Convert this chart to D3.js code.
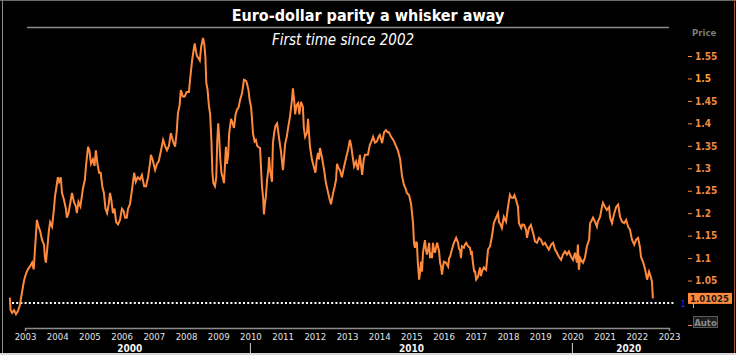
<!DOCTYPE html>
<html><head><meta charset="utf-8">
<script src="https://cdn.jsdelivr.net/npm/d3@7"></script>
<style>html,body{margin:0;padding:0;background:#000;overflow:hidden}</style>
</head><body><svg id="c" width="736" height="355"></svg>
<script>
const title = "Euro-dollar parity a whisker away";
const subtitle = "First time since 2002";
const years = [
 2002.53,2002.55,2002.60,2002.66,2002.72,2002.78,2002.84,2002.91,2002.97,
 2003.03,2003.09,2003.16,2003.22,2003.27,2003.31,2003.37,2003.42,2003.47,2003.53,2003.59,2003.62,2003.65,2003.69,2003.74,2003.78,2003.84,2003.90,2003.93,2003.98,
 2004.02,2004.06,2004.11,2004.15,2004.21,2004.27,2004.30,2004.35,2004.40,2004.46,2004.52,2004.58,2004.61,2004.66,2004.72,2004.76,2004.80,2004.86,2004.90,2004.96,
 2005.00,2005.05,2005.11,2005.16,2005.20,2005.25,2005.30,2005.35,2005.40,2005.45,2005.50,2005.55,2005.60,2005.64,2005.68,2005.73,2005.78,2005.83,2005.89,2005.95,
 2006.01,2006.06,2006.11,2006.16,2006.20,2006.26,2006.32,2006.39,2006.44,2006.50,2006.57,2006.63,2006.70,2006.76,2006.82,2006.88,2006.91,2006.96,
 2007.04,2007.10,2007.15,2007.21,2007.29,2007.35,2007.41,2007.47,2007.53,2007.60,2007.66,2007.71,2007.75,2007.80,2007.84,2007.90,2007.96,
 2008.02,2008.09,2008.13,2008.19,2008.23,2008.27,2008.31,2008.34,2008.39,2008.43,2008.47,2008.53,2008.57,2008.60,2008.63,2008.67,2008.71,2008.75,2008.79,2008.82,2008.85,2008.90,2008.94,2008.97,
 2009.00,2009.03,2009.06,2009.10,2009.14,2009.18,2009.24,2009.27,2009.31,2009.34,2009.40,2009.45,2009.49,2009.54,2009.58,2009.63,2009.68,2009.74,2009.80,2009.86,2009.89,2009.94,2009.98,
 2010.02,2010.05,2010.08,2010.13,2010.17,2010.21,2010.24,2010.30,2010.33,2010.36,2010.40,2010.42,2010.45,2010.48,2010.52,2010.56,2010.58,2010.61,2010.65,2010.67,2010.70,2010.74,2010.78,2010.83,2010.89,2010.95,
 2011.01,2011.04,2011.08,2011.13,2011.17,2011.23,2011.29,2011.32,2011.36,2011.39,2011.43,2011.48,2011.52,2011.57,2011.63,2011.66,2011.70,2011.76,2011.79,2011.85,2011.91,2011.98,
 2012.02,2012.06,2012.10,2012.13,2012.16,2012.22,2012.29,2012.34,2012.38,2012.44,2012.50,2012.57,2012.62,2012.66,2012.69,2012.74,2012.78,2012.84,2012.91,2012.97,
 2013.03,2013.09,2013.13,2013.16,2013.22,2013.28,2013.34,2013.40,2013.47,2013.52,2013.56,2013.65,2013.71,2013.76,2013.81,2013.87,2013.93,2013.98,
 2014.02,2014.09,2014.15,2014.21,2014.26,2014.30,2014.37,2014.42,2014.46,2014.52,2014.58,2014.65,2014.71,2014.77,2014.82,2014.86,2014.93,2014.99,
 2015.02,2015.05,2015.08,2015.11,2015.15,2015.17,2015.20,2015.24,2015.27,2015.30,2015.33,2015.36,2015.42,2015.45,2015.48,2015.52,2015.55,2015.58,2015.61,2015.64,2015.67,2015.70,2015.73,2015.77,2015.80,2015.86,2015.89,2015.92,2015.95,2015.98,
 2016.01,2016.07,2016.14,2016.17,2016.20,2016.26,2016.32,2016.39,2016.45,2016.48,2016.51,2016.54,2016.57,2016.63,2016.66,2016.70,2016.76,2016.82,2016.85,2016.88,2016.91,2016.95,2016.98,
 2017.01,2017.04,2017.07,2017.13,2017.16,2017.19,2017.25,2017.32,2017.35,2017.38,2017.44,2017.50,2017.56,2017.63,2017.69,2017.72,2017.75,2017.81,2017.87,2017.94,
 2018.00,2018.06,2018.10,2018.16,2018.20,2018.25,2018.31,2018.34,2018.41,2018.45,2018.50,2018.56,2018.59,2018.65,2018.71,2018.78,2018.84,2018.90,2018.96,
 2019.02,2019.09,2019.15,2019.21,2019.27,2019.34,2019.40,2019.46,2019.52,2019.58,2019.65,2019.71,2019.77,2019.83,2019.89,2019.96,
 2020.02,2020.08,2020.14,2020.17,2020.20,2020.24,2020.27,2020.33,2020.39,2020.45,2020.52,2020.55,2020.58,2020.64,2020.70,2020.76,2020.79,2020.86,2020.92,2020.95,
 2021.01,2021.07,2021.14,2021.17,2021.23,2021.29,2021.36,2021.42,2021.48,2021.54,2021.61,2021.67,2021.73,2021.79,2021.85,2021.92,2021.98,
 2022.04,2022.10,2022.13,2022.20,2022.26,2022.32,2022.38,2022.44,2022.47,2022.50
];
const prices = [
 1.012,0.985,0.978,0.984,0.975,0.982,0.995,1.025,1.05,
 1.065,1.075,1.082,1.09,1.075,1.12,1.185,1.17,1.16,1.14,1.13,1.10,1.09,1.12,1.16,1.18,1.17,1.21,1.237,1.26,
 1.28,1.27,1.28,1.245,1.23,1.21,1.19,1.20,1.22,1.245,1.225,1.215,1.20,1.225,1.215,1.235,1.255,1.275,1.31,1.348,
 1.34,1.31,1.32,1.305,1.34,1.31,1.29,1.29,1.26,1.245,1.21,1.20,1.22,1.245,1.23,1.20,1.21,1.18,1.175,1.185,
 1.21,1.205,1.19,1.19,1.21,1.22,1.25,1.29,1.27,1.28,1.275,1.285,1.26,1.26,1.28,1.31,1.33,1.32,
 1.296,1.31,1.315,1.335,1.363,1.35,1.34,1.35,1.378,1.36,1.348,1.38,1.423,1.44,1.474,1.46,1.46,
 1.47,1.47,1.50,1.54,1.56,1.578,1.56,1.55,1.545,1.54,1.57,1.59,1.575,1.55,1.49,1.475,1.44,1.42,1.36,1.29,1.267,1.26,1.28,1.36,
 1.40,1.37,1.325,1.29,1.28,1.267,1.348,1.31,1.33,1.378,1.41,1.40,1.39,1.42,1.43,1.435,1.452,1.467,1.497,1.495,1.49,1.474,1.45,
 1.437,1.41,1.378,1.36,1.363,1.35,1.348,1.345,1.30,1.26,1.23,1.197,1.22,1.237,1.275,1.30,1.325,1.296,1.28,1.27,1.356,1.38,1.395,1.40,1.367,1.337,
 1.296,1.32,1.355,1.37,1.39,1.415,1.452,1.478,1.45,1.42,1.44,1.445,1.42,1.448,1.437,1.39,1.37,1.38,1.41,1.348,1.32,1.30,
 1.29,1.32,1.334,1.32,1.345,1.325,1.296,1.27,1.256,1.237,1.22,1.245,1.26,1.275,1.31,1.30,1.296,1.28,1.304,1.323,
 1.34,1.363,1.35,1.334,1.304,1.315,1.296,1.33,1.285,1.32,1.33,1.33,1.352,1.36,1.37,1.357,1.36,1.37,
 1.374,1.356,1.38,1.385,1.38,1.38,1.37,1.365,1.36,1.35,1.34,1.32,1.282,1.263,1.255,1.245,1.24,1.22,
 1.20,1.178,1.134,1.123,1.135,1.134,1.09,1.052,1.07,1.092,1.07,1.112,1.14,1.12,1.108,1.12,1.134,1.10,1.112,1.10,1.134,1.12,1.112,1.125,1.134,1.115,1.09,1.081,1.063,1.08,
 1.092,1.09,1.081,1.10,1.103,1.119,1.134,1.145,1.134,1.12,1.119,1.10,1.126,1.123,1.13,1.134,1.126,1.123,1.11,1.112,1.09,1.07,1.07,
 1.052,1.055,1.059,1.079,1.06,1.07,1.079,1.074,1.096,1.119,1.126,1.148,1.178,1.19,1.20,1.18,1.178,1.167,1.192,1.181,
 1.214,1.241,1.235,1.234,1.24,1.23,1.214,1.178,1.167,1.175,1.174,1.163,1.145,1.167,1.174,1.156,1.137,1.134,1.145,
 1.141,1.13,1.134,1.126,1.119,1.13,1.134,1.119,1.112,1.103,1.096,1.108,1.115,1.108,1.115,1.103,
 1.096,1.112,1.09,1.13,1.074,1.10,1.096,1.09,1.101,1.126,1.141,1.178,1.181,1.19,1.181,1.17,1.181,1.192,1.215,1.223,
 1.214,1.207,1.214,1.19,1.178,1.197,1.214,1.219,1.192,1.181,1.178,1.185,1.17,1.163,1.141,1.13,1.141,
 1.145,1.123,1.103,1.09,1.074,1.052,1.07,1.057,1.048,1.01025
];
const yearTicks = [2003,2004,2005,2006,2007,2008,2009,2010,2011,2012,2013,2014,2015,2016,2017,2018,2019,2020,2021,2022,2023];
const decadeStarts = [2000,2010,2020];
const decadeLabels = ["2000","2010","2020"];
const priceTicks = [1.05,1.1,1.15,1.2,1.25,1.3,1.35,1.4,1.45,1.5,1.55];
const parityLevel = 1;
const lastPrice = 1.01025;
const lastPriceLabel = "1.01025";

const FONT = "'DejaVu Sans Condensed','DejaVu Sans',sans-serif";
const svg = d3.select("#c");
svg.append("rect").attr("width",736).attr("height",355).attr("fill","#000");

const x = d3.scaleLinear().domain([2003,2023]).range([25,669]);
const y = d3.scaleLinear().domain([1,1.55]).range([303,56]);
const visLeft = 9, visRight = 685;

// frame
svg.append("line").attr("x1",0).attr("x2",736).attr("y1",0.5).attr("y2",0.5).attr("stroke","#6a6a6a");
svg.append("line").attr("x1",2.5).attr("x2",2.5).attr("y1",0).attr("y2",355).attr("stroke","#8a8a8a");
svg.append("line").attr("x1",734.5).attr("x2",734.5).attr("y1",0).attr("y2",355).attr("stroke","#a0552a");
svg.append("rect").attr("x",0).attr("y",353).attr("width",736).attr("height",2).attr("fill","#d8d8d8");

// title
svg.append("text").attr("x",368).attr("y",21).attr("text-anchor","middle")
  .attr("font-family",FONT).attr("font-weight","bold").attr("font-size",16).attr("fill","#fff").text(title);
svg.append("line").attr("x1",27).attr("x2",669).attr("y1",27.5).attr("y2",27.5).attr("stroke","#8c8c8c").attr("stroke-width",1.5);
svg.append("text").attr("x",343).attr("y",45).attr("text-anchor","middle")
  .attr("font-family",FONT).attr("font-style","italic").attr("font-size",15).attr("fill","#fff").text(subtitle);

// parity dotted line
svg.append("line").attr("x1",12).attr("x2",675).attr("y1",y(parityLevel)).attr("y2",y(parityLevel))
  .attr("stroke","#fff").attr("stroke-width",2).attr("stroke-dasharray","2,2.2");

// price line
const data = d3.zip(years, prices);
svg.append("path").datum(data)
  .attr("d", d3.line().x(d=>x(d[0])).y(d=>y(d[1])))
  .attr("fill","none").attr("stroke","#ff8a3d").attr("stroke-width",2).attr("stroke-linejoin","miter");

// right axis
const ra = svg.append("g").attr("transform","translate(688,0)")
  .call(d3.axisRight(y).tickValues(priceTicks).tickSize(4).tickPadding(3).tickFormat(d=>d3.format("")(+d.toFixed(2))));
ra.select(".domain").remove();
ra.selectAll(".tick line").attr("stroke","#ff8a3d");
ra.selectAll(".tick text").attr("fill",d=>d===1.5?"#ffa030":"#f08a40").attr("font-family",FONT)
  .attr("font-weight","bold").attr("font-size",10);
svg.append("text").attr("x",692).attr("y",36).attr("font-family",FONT).attr("font-weight","bold")
  .attr("font-size",9.5).attr("fill","#7a7a7a").text("Price");

// extra tick at 0.95 + Auto box
svg.append("line").attr("x1",688).attr("x2",692).attr("y1",y(0.95)).attr("y2",y(0.95)).attr("stroke","#ff8a3d");
svg.append("rect").attr("x",693.5).attr("y",316.5).attr("width",24).attr("height",11).attr("fill","#1c1c1c").attr("stroke","#5a5a5a");
svg.append("text").attr("x",705.5).attr("y",325.5).attr("text-anchor","middle").attr("font-family",FONT)
  .attr("font-weight","bold").attr("font-size",9.5).attr("fill","#8a8a8a").text("Auto");

// parity marker
svg.append("path").attr("d",`M690,${y(parityLevel)+0.5}H697M693.5,${y(parityLevel)}V${y(parityLevel)+5}`).attr("stroke","#ffb020").attr("fill","none");
svg.append("text").attr("x",683).attr("y",y(parityLevel)+4).attr("text-anchor","middle").attr("font-family",FONT)
  .attr("font-size",8).attr("fill","#2a3cff").text("1");

// last price box
svg.append("rect").attr("x",688).attr("y",y(lastPrice)-5.5).attr("width",44).attr("height",11).attr("fill","#ff8a3d");
svg.append("text").attr("x",690).attr("y",y(lastPrice)+3.5).attr("font-family",FONT).attr("font-weight","bold")
  .attr("font-size",9.5).attr("fill","#1a1a1a").text(lastPriceLabel);

// bottom axis
const ba = svg.append("g").attr("transform","translate(0,328)")
  .call(d3.axisBottom(x).tickValues(yearTicks).tickFormat(d3.format("d")).tickSizeInner(0).tickSizeOuter(3).tickPadding(5));
ba.select(".domain").attr("stroke","#8c8c8c").attr("stroke-width",1.5);
ba.selectAll(".tick text").attr("fill","#e4e4e4").attr("font-family",FONT).attr("font-size",9.5);

// decade labels and dividers
decadeStarts.forEach((d,i)=>{
  const a = Math.max(x(d), visLeft), b = Math.min(x(d+10), visRight);
  svg.append("text").attr("x",(a+b)/2).attr("y",352).attr("text-anchor","middle").attr("font-family",FONT)
    .attr("font-weight","bold").attr("font-size",10).attr("fill","#f2f2f2").text(decadeLabels[i]);
  if (x(d) > visLeft) svg.append("line").attr("x1",x(d)).attr("x2",x(d)).attr("y1",343).attr("y2",353)
    .attr("stroke","#cfcfcf");
});
</script></body></html>
